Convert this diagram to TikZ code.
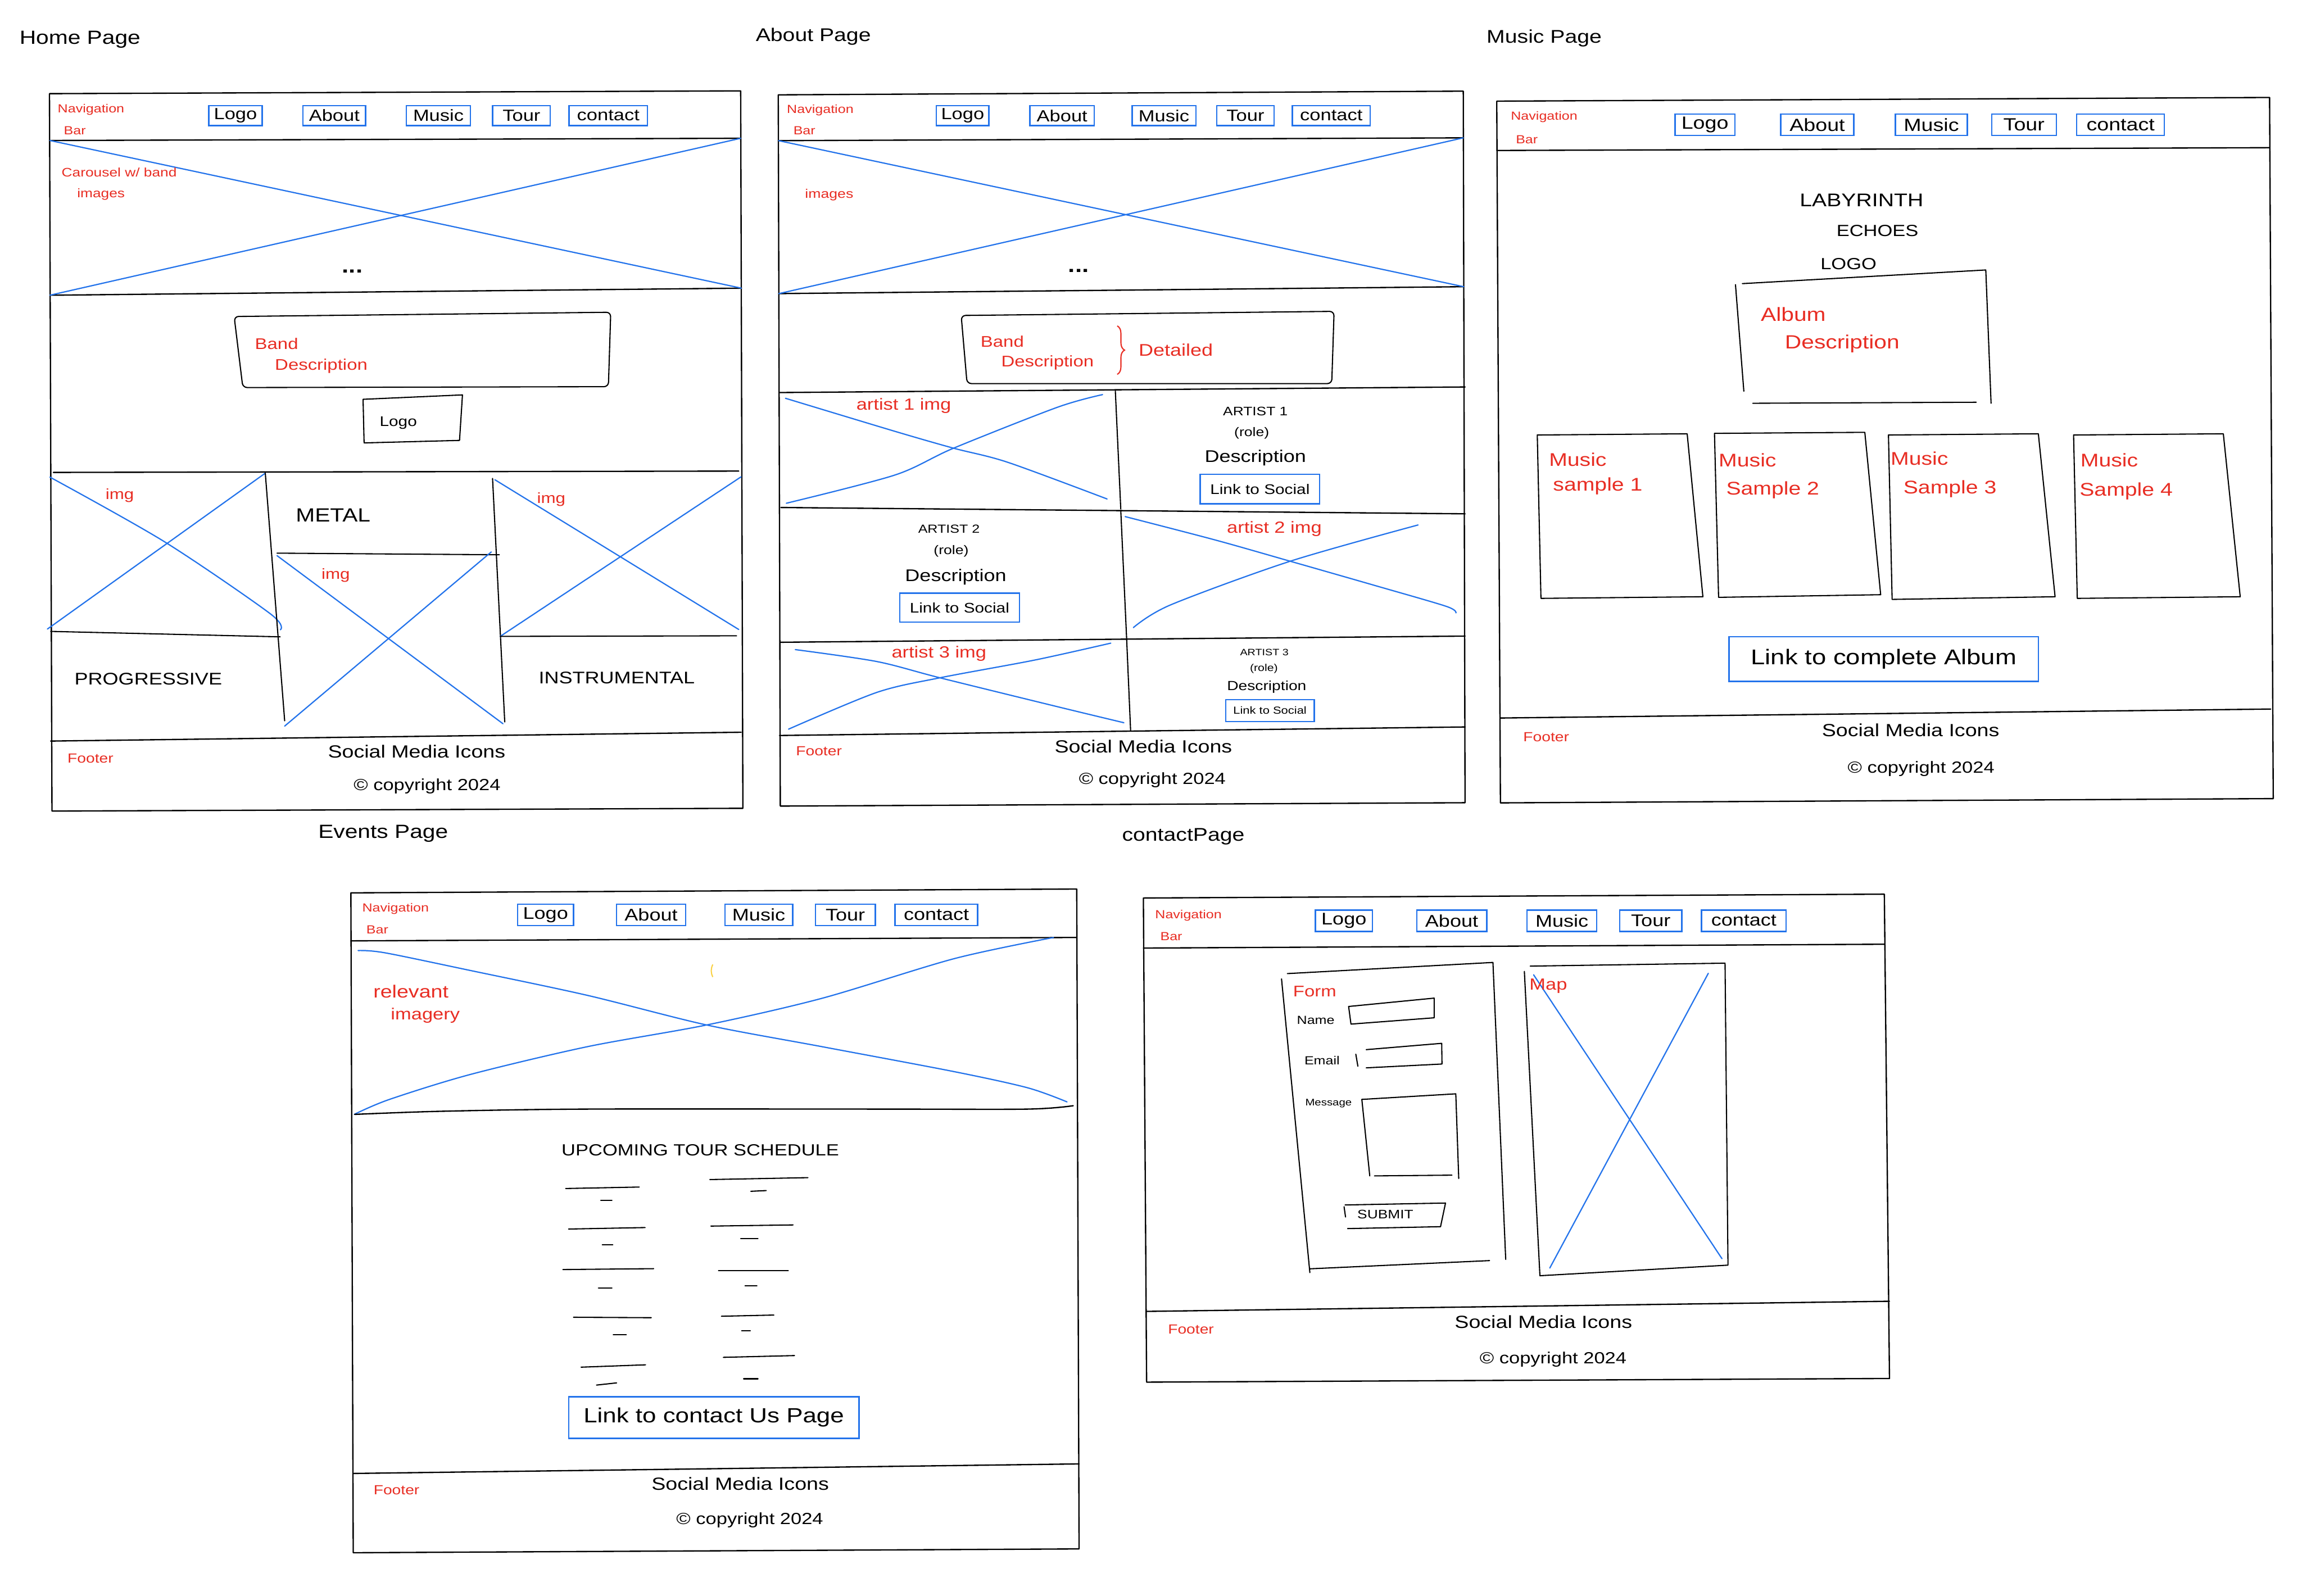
\documentclass[tikz,border=0pt]{standalone}
\usepackage{fontspec}
\newfontfamily\hand[FakeStretch=1.2]{Liberation Sans}
\usetikzlibrary{decorations.pathreplacing}
\definecolor{wfblue}{RGB}{35,115,235}
\definecolor{wfred}{RGB}{232,45,35}
\definecolor{wfyellow}{RGB}{250,210,70}
\newcommand{\wfs}[1]{\fontsize{#1}{#1}\selectfont}
\begin{document}
\begin{tikzpicture}[x=1pt,y=-1pt,
  frame/.style={draw=black,line width=0.9pt,line join=round,line cap=round},
  sketch/.style={draw=black,line width=0.8pt,line join=round,line cap=round},
  cross/.style={draw=wfblue,line width=0.85pt,line cap=round},
  navbtn/.style={draw=wfblue,line width=0.9pt,inner sep=0pt,font=\hand\wfs{#1}},
  navbtn/.default=11,
  ht/.style={inner sep=0pt,text=black,font=\hand\wfs{#1}},
  ht/.default=10,
  hr/.style={inner sep=0pt,text=wfred,font=\hand\wfs{#1}},
  hr/.default=10,
  sched/.style={draw=black,line width=0.8pt,line cap=round}
]
\useasboundingbox[fill=white] (0,0) rectangle (1568,1087);

% ---------------- titles
\node[ht=13] (h-title) at (54.5,27) {Home Page};
\node[ht=12.5] (a-title) at (554,25) {About Page};
\node[ht=12.5] (m-title) at (1051.8,25.9) {Music Page};
\node[ht=13] (e-title) at (261,568) {Events Page};
\node[ht=12.5] (c-title) at (806,570) {contactPage};

% ================= HOME PAGE
\draw[frame] (33.7,63.8) -- (504.5,61.9) -- (506,550.6) -- (35.4,552.5) -- cycle;
\draw[frame] (33.7,95.7) -- (504.5,94.2);
\draw[frame] (34,201.1) -- (505,196.3);
\draw[cross] (34,95.7) -- (505,196.3);
\draw[cross] (34,201.1) -- (504.5,94.2);
\node[hr=8] (h-nav1) at (62,74.5) {Navigation};
\node[hr=8] (h-nav2) at (51,89) {Bar};
\node[navbtn, minimum width=36.3pt, minimum height=13.7pt] (h-logo) at (160.4,78.7) {Logo};
\node[navbtn, minimum width=42.6pt, minimum height=13.7pt] (h-about) at (227.7,78.7) {About};
\node[navbtn, minimum width=43.6pt, minimum height=13.7pt] (h-music) at (298.6,78.7) {Music};
\node[navbtn, minimum width=39.3pt, minimum height=13.7pt] (h-tour) at (355.2,78.7) {Tour};
\node[navbtn, minimum width=53.4pt, minimum height=13.7pt] (h-contact) at (414.3,78.7) {contact};
\node[hr=8.4] (h-car1) at (81.2,117.4) {Carousel w/ band};
\node[hr=8.4] (h-car2) at (68.8,132.5) {images};
\node[inner sep=0pt,font=\hand\wfs{14}\bfseries] (h-dots) at (240,185) {...};
\draw[sketch, rounded corners=3pt] (159.5,215.6) -- (416,212.7) -- (414.4,263.4) -- (165.4,264) -- cycle;
\node[hr=10.5] (h-band1) at (188.4,234) {Band};
\node[hr=10.5] (h-band2) at (218.8,249.5) {Description};
\draw[sketch] (247.3,272) -- (315,269) -- (313,300) -- (248,301.7) -- cycle;
\node[ht=9.5] (h-logo2) at (271.3,288.2) {Logo};
\draw[frame] (36.3,321.8) -- (503.2,320.9);
% left image
\draw[cross] plot[smooth] coordinates {(34,325) (112,369) (184,418) (191,429)};
\draw[cross] (32.3,428.5) -- (180.7,322.3);
\draw[sketch] (34.5,430.1) -- (190.8,433.8);
\draw[sketch] (180.7,322.3) -- (193.9,491);
\node[hr=10] (h-img1) at (81.6,337.6) {img};
\node[ht=13] (h-metal) at (226.9,350.9) {METAL};
% middle image
\draw[sketch] (188.7,376.8) -- (340.1,377.9);
\draw[cross] (188.7,378.5) -- (342.6,493);
\draw[cross] (334.6,376) -- (193.9,494.6);
\node[hr=10] (h-img2) at (228.7,391.8) {img};
% right image
\draw[sketch] (335.5,325.9) -- (343.8,491.8);
\draw[cross] (337.1,326.8) -- (503.2,428.8);
\draw[cross] (504.8,324.8) -- (340.7,433.5);
\draw[sketch] (340.7,433.5) -- (501.7,433.1);
\node[hr=10] (h-img3) at (375.5,340.1) {img};
\node[ht=11.5] (h-prog) at (101,462.6) {PROGRESSIVE};
\node[ht=11.5] (h-inst) at (420.1,461.8) {INSTRUMENTAL};
% footer
\draw[frame] (34.5,504.8) -- (504.8,498.8);
\node[hr=9] (h-foot) at (61.6,516.5) {Footer};
\node[ht=12] (h-social) at (283.8,512.1) {Social Media Icons};
\node[ht=11] (h-copy) at (290.9,535.6) {© copyright 2024};

% ================= ABOUT PAGE
\draw[frame] (530.1,64.6) -- (996.7,62.1) -- (997.9,546.8) -- (531.5,549.1) -- cycle;
\draw[frame] (530.1,95.8) -- (996.7,93.9);
\draw[frame] (530.5,200) -- (997,195.3);
\draw[cross] (530.3,95.8) -- (997,195.3);
\draw[cross] (530.5,200) -- (996.7,93.9);
\node[hr=8] (a-nav1) at (558.7,75) {Navigation};
\node[hr=8] (a-nav2) at (547.9,88.9) {Bar};
\node[navbtn, minimum width=35.7pt, minimum height=13.6pt] (a-logo) at (655.7,78.8) {Logo};
\node[navbtn, minimum width=43.7pt, minimum height=13.6pt] (a-about) at (723.4,78.8) {About};
\node[navbtn, minimum width=43.4pt, minimum height=13.6pt] (a-music) at (792.8,78.8) {Music};
\node[navbtn, minimum width=38.8pt, minimum height=13.6pt] (a-tour) at (848.3,78.8) {Tour};
\node[navbtn, minimum width=53pt, minimum height=13.6pt] (a-contact) at (906.8,78.8) {contact};
\node[hr=8.5] (a-images) at (564.8,132.8) {images};
\node[inner sep=0pt,font=\hand\wfs{14}\bfseries] (a-dots) at (734.7,184.5) {...};
\draw[sketch, rounded corners=3pt] (654.7,214.9) -- (908.7,212.1) -- (907.1,261.3) -- (658.7,261.3) -- cycle;
\node[hr=10.5] (a-band1) at (682.7,232.6) {Band};
\node[hr=10.5] (a-band2) at (713.5,246.9) {Description};
\draw[wfred, line width=0.8pt, decorate, decoration={brace,amplitude=5pt}] (761,222) -- (761,255);
\node[hr=11.5] (a-detail) at (800.9,238.4) {Detailed};
\draw[frame] (531,267.4) -- (997.9,263.6);
% row 1
\draw[sketch] (759.7,266.3) -- (763.4,346.7);
\draw[cross] plot[smooth] coordinates {(535,271.3) (609.5,293.8) (649.5,305.3) (686.4,314.9) (754.1,339.9)};
\draw[cross] plot[smooth] coordinates {(535.6,342.8) (609.5,323.6) (649.5,305.3) (720.3,277.4) (751,268.8)};
\node[hr=11] (a-art1img) at (615.6,276.5) {artist 1 img};
\node[ht=8.4] (a-art1) at (855.1,280.3) {ARTIST 1};
\node[ht=8.5] (a-role1) at (852.6,295.1) {(role)};
\node[ht=11.5] (a-desc1) at (855.1,311.7) {Description};
\node[navbtn=9.5, minimum width=81.3pt, minimum height=20pt] (a-link1) at (858.2,333.2) {Link to Social};
% row 2
\draw[frame] (531.9,345.7) -- (997.9,350);
\draw[sketch] (763.4,347.6) -- (767.4,435.2);
\node[ht=8] (a-art2) at (646.4,360.5) {ARTIST 2};
\node[ht=8.5] (a-role2) at (647.9,375.5) {(role)};
\node[ht=11.5] (a-desc2) at (651,392.9) {Description};
\node[navbtn=9.5, minimum width=81.6pt, minimum height=19.8pt] (a-link2) at (653.6,413.9) {Link to Social};
\draw[cross] plot[smooth] coordinates {(766.4,351.9) (828,367.9) (878.8,382.3) (935.7,398.6) (985,413) (991.7,417.5)};
\draw[cross] plot[smooth] coordinates {(772,427.5) (797.2,412.1) (878.8,382.3) (965.9,357.6)};
\node[hr=11] (a-art2img) at (868,360.1) {artist 2 img};
% row 3
\draw[frame] (531.9,437.5) -- (997.9,433.3);
\draw[sketch] (767.4,435.2) -- (770.1,497.7);
\draw[cross] plot[smooth] coordinates {(541.7,442.5) (597.1,450.6) (640.2,461.7) (720.3,481.4) (765.5,492.3)};
\draw[cross] plot[smooth] coordinates {(537.1,496.7) (597.1,471.7) (640.2,461.7) (704.9,449.6) (756.6,438.1)};
\node[hr=11] (a-art3img) at (639.6,445.2) {artist 3 img};
\node[ht=6.3] (a-art3) at (861.2,444.2) {ARTIST 3};
\node[ht=6.8] (a-role3) at (860.9,455.4) {(role)};
\node[ht=9] (a-desc3) at (862.8,467.9) {Description};
\node[navbtn=7, minimum width=60.3pt, minimum height=14.9pt] (a-link3) at (865,484) {Link to Social};
% footer
\draw[frame] (531,501) -- (997.9,495.2);
\node[hr=9] (a-foot) at (557.8,511.8) {Footer};
\node[ht=12] (a-social) at (778.8,508.3) {Social Media Icons};
\node[ht=11] (a-copy) at (784.9,531.4) {© copyright 2024};

% ================= MUSIC PAGE
\draw[frame] (1019.5,68.9) -- (1545.9,66.4) -- (1548.4,544) -- (1022,546.9) -- cycle;
\draw[frame] (1019.5,102.5) -- (1546,100.6);
\node[hr=8] (m-nav1) at (1051.8,79.7) {Navigation};
\node[hr=8] (m-nav2) at (1040,95) {Bar};
\node[navbtn=12, minimum width=40.8pt, minimum height=14.7pt] (m-logo) at (1161.3,85) {Logo};
\node[navbtn=12, minimum width=49.8pt, minimum height=14.7pt] (m-about) at (1237.8,85) {About};
\node[navbtn=12, minimum width=49pt, minimum height=14.7pt] (m-music) at (1315.5,85) {Music};
\node[navbtn=12, minimum width=44.1pt, minimum height=14.7pt] (m-tour) at (1378.6,85) {Tour};
\node[navbtn=12, minimum width=59.8pt, minimum height=14.7pt] (m-contact) at (1444.4,85) {contact};
\node[ht=12.5] (m-laby) at (1268,136.5) {LABYRINTH};
\node[ht=11] (m-echo) at (1278.8,157.3) {ECHOES};
\node[ht=11] (m-logo2) at (1259.1,179.6) {LOGO};
\draw[sketch] (1182.1,193.9) -- (1187.8,266.5);
\draw[sketch] (1186.8,193.2) -- (1352.6,183.9) -- (1356.2,274.7);
\draw[sketch] (1193.9,274.7) -- (1346.1,274);
\node[hr=13] (m-album1) at (1221.5,214) {Album};
\node[hr=13] (m-album2) at (1254.8,234.1) {Description};
\draw[sketch] (1047.1,296.3) -- (1149.2,295.5) -- (1159.9,406.5) -- (1049.6,407.6) -- cycle;
\draw[sketch] (1167.8,295.2) -- (1270.2,294.5) -- (1281,405.1) -- (1170.6,406.9) -- cycle;
\draw[sketch] (1286.3,296.3) -- (1388.4,295.5) -- (1399.8,406.5) -- (1288.8,408.3) -- cycle;
\draw[sketch] (1412.4,296.3) -- (1514.4,295.5) -- (1525.9,406.5) -- (1414.9,407.6) -- cycle;
\node[hr=12.5] (m-s1a) at (1074.7,313.1) {Music};
\node[hr=12.5] (m-s1b) at (1088.3,331.1) {sample 1};
\node[hr=12.5] (m-s2a) at (1190.3,313.5) {Music};
\node[hr=12.5] (m-s2b) at (1207.5,334) {Sample 2};
\node[hr=12.5] (m-s3a) at (1307.4,312.4) {Music};
\node[hr=12.5] (m-s3b) at (1328.2,333.2) {Sample 3};
\node[hr=12.5] (m-s4a) at (1436.7,313.5) {Music};
\node[hr=12.5] (m-s4b) at (1448.2,334.7) {Sample 4};
\node[navbtn=14.5, minimum width=210.6pt, minimum height=30.5pt, line width=1pt] (m-link) at (1283.1,449) {Link to complete Album};
\draw[frame] (1022,489.1) -- (1546.6,483);
\node[hr=9] (m-foot) at (1053.2,502) {Footer};
\node[ht=12] (m-social) at (1301.4,497.4) {Social Media Icons};
\node[ht=11] (m-copy) at (1308.5,523.6) {© copyright 2024};

% ================= EVENTS PAGE
\draw[frame] (239,608.2) -- (733.4,605.6) -- (735,1055.1) -- (240.6,1057.7) -- cycle;
\draw[frame] (239,640.9) -- (733.4,638.6);
\node[hr=8] (e-nav1) at (269.4,619) {Navigation};
\node[hr=8] (e-nav2) at (257,633.4) {Bar};
\node[navbtn=11.5, minimum width=38pt, minimum height=14.5pt] (e-logo) at (371.6,623.3) {Logo};
\node[navbtn=11.5, minimum width=47pt, minimum height=14.5pt] (e-about) at (443.5,623.3) {About};
\node[navbtn=11.5, minimum width=46.2pt, minimum height=14.5pt] (e-music) at (516.8,623.3) {Music};
\node[navbtn=11.5, minimum width=40.9pt, minimum height=14.5pt] (e-tour) at (575.8,623.3) {Tour};
\node[navbtn=11.5, minimum width=56.3pt, minimum height=14.5pt] (e-contact) at (637.8,623.3) {contact};
\draw[cross] plot[smooth] coordinates {(243.9,647.5) (262,649) (320,661) (400,678) (481.3,698.2) (560,713) (650,730) (700,741) (726.8,750.6)};
\draw[cross] plot[smooth] coordinates {(241.3,759.1) (265,749) (320,732) (400,713) (481.3,698.2) (560,680) (650,653) (717.6,638.6)};
\draw[frame] plot[smooth] coordinates {(241.6,759.1) (300,757) (400,755.5) (600,755.5) (700,755.5) (731,753.2)};
\draw[wfyellow, line width=0.8pt] (485.5,657) to[bend right=25] (485.5,665.5);
\node[hr=12] (e-rel1) at (279.9,675.3) {relevant};
\node[hr=11] (e-rel2) at (289.7,691.7) {imagery};
\node[ht=11] (e-sched) at (477,783.4) {UPCOMING TOUR SCHEDULE};
\draw[sched] (385.3,809.6) -- (435.4,808.6);
\draw[sched] (409.2,817.7) -- (416.8,817.7);
\draw[sched] (387.3,837.2) -- (439.4,836.2);
\draw[sched] (410.2,847.9) -- (417.4,847.9);
\draw[sched] (383.4,864.8) -- (445.2,864.2);
\draw[sched] (407.6,877.3) -- (416.8,877.3);
\draw[sched] (390.6,897.3) -- (443.6,897.6);
\draw[sched] (417.7,909.1) -- (426.6,909.1);
\draw[sched] (395.8,931.3) -- (439.7,929.7);
\draw[sched] (406.3,943.5) -- (420,942);
\draw[sched] (483.5,803.5) -- (550.3,802.2);
\draw[sched] (511.4,811.5) -- (521.9,811);
\draw[sched] (484.2,835.2) -- (540.2,834.4);
\draw[sched] (504.5,843.6) -- (516.3,843.6);
\draw[sched] (489.4,865.5) -- (536.9,865.5);
\draw[sched] (507.5,876) -- (515.6,876);
\draw[sched] (491.4,896.6) -- (527.1,895.8);
\draw[sched] (505.2,906.5) -- (511.1,906.5);
\draw[sched] (492.7,924.6) -- (541.2,923.4);
\draw[sched] (506.5,939.2) -- (516.3,939.2);
\node[navbtn=14, minimum width=197.7pt, minimum height=28.5pt, line width=1pt] (e-link) at (486.2,965.6) {Link to contact Us Page};
\draw[frame] (240.6,1003.7) -- (735,997.2);
\node[hr=9] (e-foot) at (270.1,1015.2) {Footer};
\node[ht=12] (e-social) at (504.2,1010.9) {Social Media Icons};
\node[ht=11] (e-copy) at (510.7,1035.5) {© copyright 2024};

% ================= CONTACT PAGE
\draw[frame] (778.8,611.7) -- (1283.5,609.1) -- (1287,939) -- (781,941.5) -- cycle;
\draw[frame] (778.8,645.8) -- (1283.5,643.2);
\node[hr=8] (c-nav1) at (809.5,623.5) {Navigation};
\node[hr=8] (c-nav2) at (797.8,638.1) {Bar};
\node[navbtn=11.5, minimum width=39pt, minimum height=14.6pt] (c-logo) at (915.4,627.2) {Logo};
\node[navbtn=11.5, minimum width=47.7pt, minimum height=14.6pt] (c-about) at (988.8,627.2) {About};
\node[navbtn=11.5, minimum width=47.4pt, minimum height=14.6pt] (c-music) at (1063.9,627.2) {Music};
\node[navbtn=11.5, minimum width=42.4pt, minimum height=14.6pt] (c-tour) at (1124.4,627.2) {Tour};
\node[navbtn=11.5, minimum width=57.6pt, minimum height=14.6pt] (c-contact) at (1187.8,627.2) {contact};
% form
\draw[sketch] (876.9,663.2) -- (1016.9,655.6) -- (1025.6,857.9);
\draw[sketch] (872.9,666.8) -- (892.2,866.9);
\draw[sketch] (892.2,864.3) -- (1014.6,858.7);
\node[hr=10.5] (c-form) at (895.5,675.3) {Form};
\node[ht=8] (c-name) at (896.2,695) {Name};
\draw[sketch] (918.6,685.6) -- (976.9,679.9) -- (976.9,693.3) -- (920.2,697.6) -- cycle;
\node[ht=8] (c-email) at (900.5,722.2) {Email};
\draw[sketch] (930.6,715) -- (982,710.7) -- (982.2,724.8) -- (930.6,727.4);
\draw[sketch] (923.5,718.1) -- (924.9,726.3);
\node[ht=6.5] (c-msg) at (904.9,751.5) {Message};
\draw[sketch] (927.6,748.9) -- (991.6,745.1) -- (993.6,802.8);
\draw[sketch] (927.6,748.9) -- (933,801);
\draw[sketch] (936.2,801) -- (989,800.5);
\draw[sketch] (916.2,820.8) -- (984.6,819.5) -- (981.2,835.6) -- (917.9,836.9);
\draw[sketch] (915.5,822) -- (916.5,829);
\node[ht=8.4] (c-submit) at (943.6,827.2) {SUBMIT};
% map
\draw[sketch] (1042.3,658.1) -- (1175,656.1) -- (1177,861.8) -- (1048.9,869);
\draw[sketch] (1038.3,661.7) -- (1048.9,869);
\draw[cross] (1044.6,664) -- (1172.9,857.4);
\draw[cross] (1163.6,663) -- (1055.6,863.8);
\node[hr=11] (c-map) at (1054.6,671.5) {Map};
% footer
\draw[frame] (781.2,893.3) -- (1287,886.4);
\node[hr=9] (c-foot) at (811.2,905.6) {Footer};
\node[ht=12] (c-social) at (1051.3,900.5) {Social Media Icons};
\node[ht=11] (c-copy) at (1057.9,926.2) {© copyright 2024};
\end{tikzpicture}
\end{document}
